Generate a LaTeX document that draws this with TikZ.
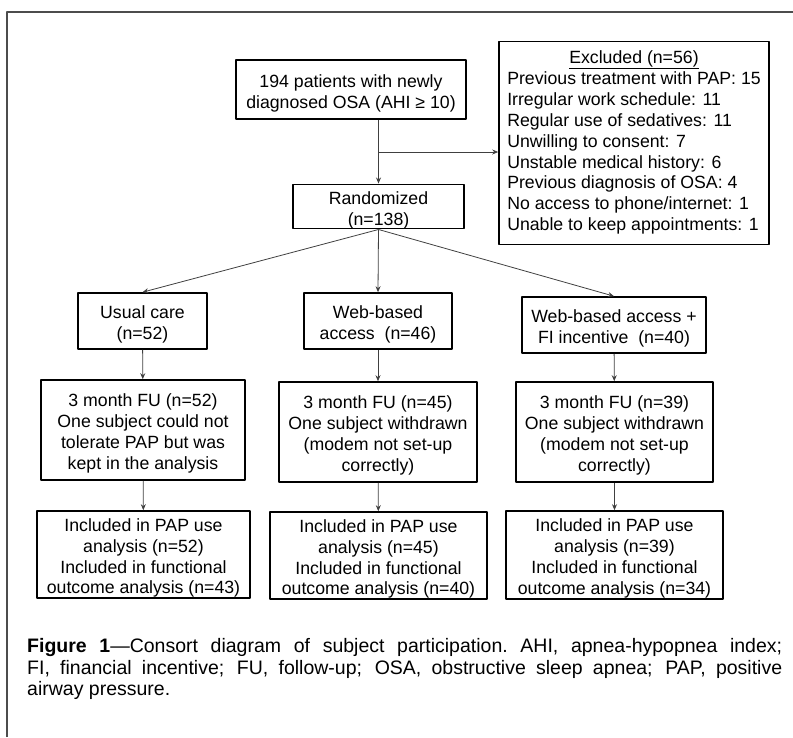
\documentclass[tikz,border=0pt]{standalone}
\usepackage{fontspec}
\setmainfont{Liberation Sans}
\usetikzlibrary{arrows.meta}
\newcommand{\capspace}{\spaceskip=5.4pt plus 30pt minus 1.5pt\relax\xspaceskip=\spaceskip}
\newcommand{\capline}[1]{\hbox to 755pt{#1}}
\newcommand{\boxstrut}{\rule{0pt}{19.8pt}}
\begin{document}
\begin{tikzpicture}[x=1pt,y=-1pt,>={Stealth[length=6pt,width=5pt]},line join=round,
		box/.style={draw,line width=1.6pt,align=center,inner sep=0pt,font=\fontsize{17.7}{20.9}\selectfont},
		conn/.style={->,line width=0.8pt,draw=black!75}]
	\useasboundingbox (0,0) rectangle (793,737);
	% khung ngoai
	\path (7,737) coordinate (FL) (7,12) coordinate (FO) (793,12) coordinate (FR);
	\draw[line width=1.2pt,black!70] (FL)--(FO)--(FR);
	% cac o
	\node[box,minimum width=230pt,minimum height=59pt] (pat) at (351,89.5) {\boxstrut 194 patients with newly\\diagnosed OSA (AHI ≥ 10)};
	\node[box,minimum width=270pt,minimum height=203pt] (excl) at (634,143) {\begin{tabular}{@{}l@{}}
			\multicolumn{1}{@{}c@{}}{\underline{Excluded (n=56)}}\\
			Previous treatment with PAP:  15\\
			Irregular work schedule: 11\\
			Regular use of sedatives: 11\\
			Unwilling to consent: 7\\
			Unstable medical history: 6\\
			Previous diagnosis of OSA: 4\\
			No access to phone/internet: 1\\
			Unable to keep appointments: 1
	\end{tabular}};
	\node[box,minimum width=171pt,minimum height=43pt] (rand) at (378.5,206.5) {\boxstrut Randomized\\(n=138)};
	\node[box,minimum width=129pt,minimum height=56pt] (usual) at (142.5,321) {\boxstrut Usual care\\(n=52)};
	\node[box,minimum width=148pt,minimum height=56pt] (web) at (378,321) {\boxstrut Web-based\\access~ (n=46)};
	\node[box,minimum width=184pt,minimum height=56pt] (webfi) at (614,325) {\boxstrut Web-based access +\\FI incentive~ (n=40)};
	\node[box,minimum width=204pt,minimum height=100pt] (fuA) at (143,430) {\boxstrut 3 month FU (n=52)\\One subject could not\\tolerate PAP but was\\kept in the analysis};
	\node[box,minimum width=198pt,minimum height=100pt] (fuB) at (378,432) {\boxstrut 3 month FU (n=45)\\One subject withdrawn\\(modem not set-up\\correctly)};
	\node[box,minimum width=197pt,minimum height=100pt] (fuC) at (614.5,432) {\boxstrut 3 month FU (n=39)\\One subject withdrawn\\(modem not set-up\\correctly)};
	\node[box,minimum width=213pt,minimum height=87pt] (incA) at (143.5,554.5) {\boxstrut Included in PAP use\\analysis (n=52)\\Included in functional\\outcome analysis (n=43)};
	\node[box,minimum width=217pt,minimum height=87pt] (incB) at (378.5,555.5) {\boxstrut Included in PAP use\\analysis (n=45)\\Included in functional\\outcome analysis (n=40)};
	\node[box,minimum width=217pt,minimum height=88pt] (incC) at (614.5,555) {\boxstrut Included in PAP use\\analysis (n=39)\\Included in functional\\outcome analysis (n=34)};
	% mui ten
	\path (rand.north |- 0,152) coordinate (split);
	\draw[conn] (rand.north |- pat.south)--(rand.north);
	\draw[conn] (split)--(split -| excl.west);
	\draw[conn] (rand.south)--(usual.north);
	\draw[conn] (rand.south)--(web.north);
	\draw[conn] (rand.south)--(webfi.north);
	\draw[conn] (usual)--(fuA);
	\draw[conn] (web)--(fuB);
	\draw[conn] (webfi)--(fuC);
	\draw[conn] (fuA)--(incA);
	\draw[conn] (fuB)--(incB);
	\draw[conn] (fuC)--(incC);
	% chu thich
	\node[anchor=north west,inner sep=0pt,font=\fontsize{19.5}{21.5}\selectfont] (cap) at (27,638.5) {\vbox{\capspace
		\capline{\textbf{Figure 1}—Consort diagram of subject participation. AHI, apnea-hypopnea index;}
		\capline{FI, financial incentive; FU, follow-up; OSA, obstructive sleep apnea; PAP, positive}
		\hbox{airway pressure.}}};
\end{tikzpicture}
\end{document}
